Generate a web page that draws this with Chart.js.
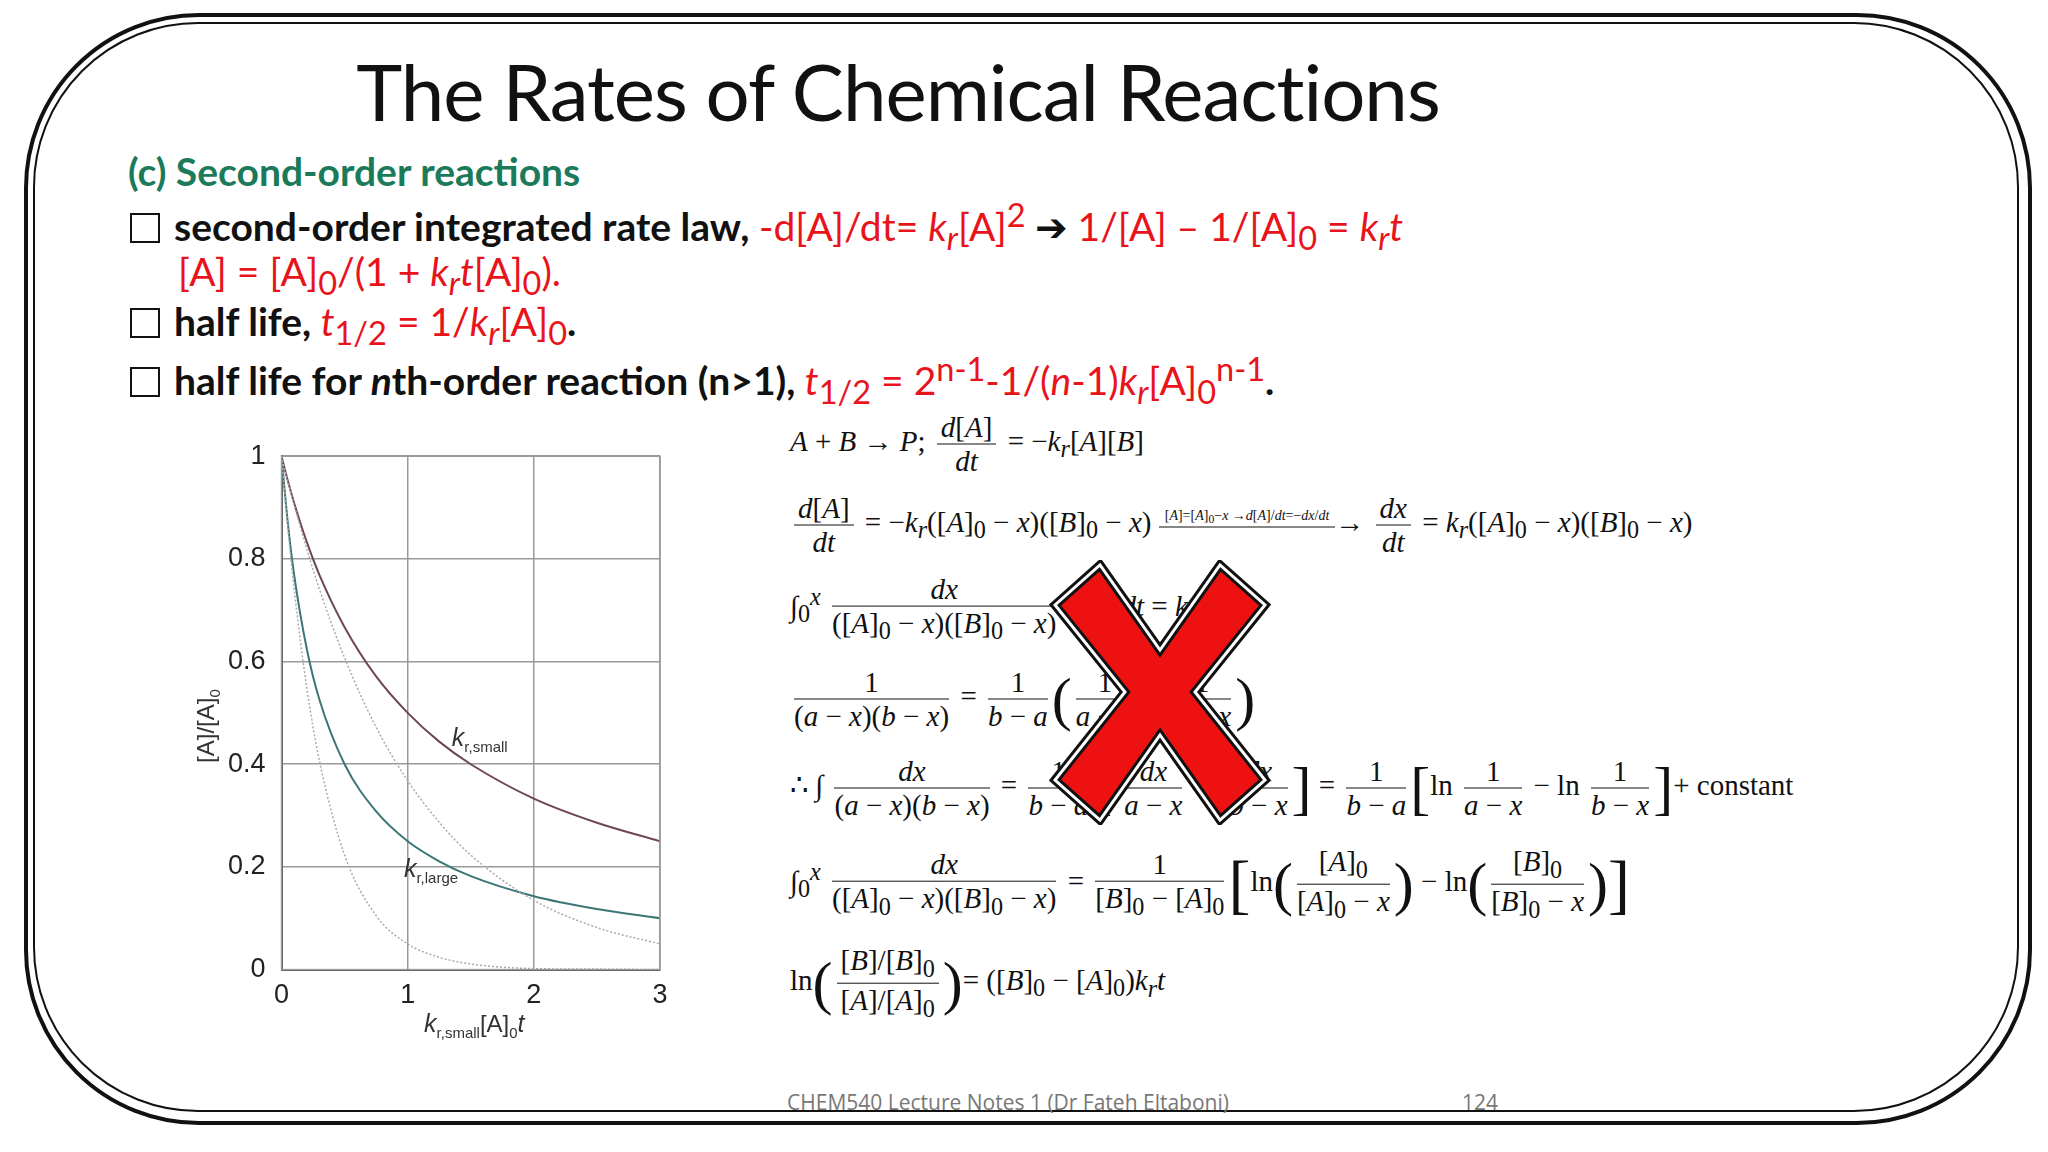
<!DOCTYPE html>
<html>
<head>
<meta charset="utf-8">
<script src="https://cdn.jsdelivr.net/npm/chart.js@4.4.1/dist/chart.umd.min.js"></script>
<style>
  body { margin:0; width:2048px; height:1152px; background:#fff; position:relative; overflow:hidden; font-family:Lato, "Open Sans", sans-serif; }
  .frame { position:absolute; left:24px; top:13px; width:2000px; height:1104px; border:4px solid #111; border-radius:175px; }
  .frame2 { position:absolute; left:33px; top:22px; width:1982px; height:1086px; border:2px solid #111; border-radius:165px; }
  .title { position:absolute; left:0; width:1796px; text-align:center; top:44px; font-size:78px; color:#111; letter-spacing:-1px; }
  .sub { position:absolute; left:128px; top:148px; font-size:39px; font-weight:bold; color:#1a7a5a; }
  .line { position:absolute; left:130px; font-size:39px; font-weight:bold; color:#111; white-space:nowrap; }
  .line .box { display:inline-block; width:26px; height:26px; border:2.5px solid #111; margin-right:14px; vertical-align:-2px; }
  .red { color:#e8141c; font-weight:normal; }
  #wrap { position:absolute; left:160px; top:424px; width:528px; height:642px; }
  .eq { position:absolute; font-family:"Liberation Serif", "DejaVu Serif", serif; font-size:29px; color:#111; white-space:nowrap; transform:translateY(-50%); }
  .frac { display:inline-flex; flex-direction:column; text-align:center; vertical-align:middle; margin:0 4px; }
  .frac > span:first-child { border-bottom:1.5px solid #111; padding:0 4px; }
  .big { font-size:60px; vertical-align:middle; }
  i { font-style:italic; }
  .foot { position:absolute; top:1088px; font-size:21px; color:#777; font-family:"Open Sans", sans-serif; }
</style>
</head>
<body>
<div class="frame"></div><div class="frame2"></div>
<div class="title">The Rates of Chemical Reactions</div>
<div class="sub">(c) Second-order reactions</div>
<div class="line" style="top:195px"><span class="box"></span>second-order integrated rate law, <span class="red">-d[A]/dt= <i>k<sub>r</sub></i>[A]<sup>2</sup></span> <span style="font-weight:normal">&#10132;</span> <span class="red">1/[A] – 1/[A]<sub>0</sub> = <i>k<sub>r</sub>t</i></span></div>
<div class="line" style="top:248px; left:178px"><span class="red">[A] = [A]<sub>0</sub>/(1 + <i>k<sub>r</sub>t</i>[A]<sub>0</sub>).</span></div>
<div class="line" style="top:298px"><span class="box"></span>half life, <span class="red"><i>t</i><sub>1/2</sub> = 1/<i>k<sub>r</sub></i>[A]<sub>0</sub></span>.</div>
<div class="line" style="top:349px"><span class="box"></span>half life for <i>n</i>th-order reaction (n&gt;1), <span class="red"><i>t</i><sub>1/2</sub> = 2<sup>n-1</sup>-1/(<i>n</i>-1)<i>k<sub>r</sub></i>[A]<sub>0</sub><sup>n-1</sup></span>.</div>

<div id="wrap"><canvas id="chart"></canvas></div>

<div class="eq" style="left:790px; top:444px"><i>A</i> + <i>B</i> → <i>P</i>; <span class="frac"><span><i>d</i>[<i>A</i>]</span><span><i>dt</i></span></span> = −<i>k<sub>r</sub></i>[<i>A</i>][<i>B</i>]</div>
<div class="eq" style="left:790px; top:525px"><span class="frac"><span><i>d</i>[<i>A</i>]</span><span><i>dt</i></span></span> = −<i>k<sub>r</sub></i>([<i>A</i>]<sub>0</sub> − <i>x</i>)([<i>B</i>]<sub>0</sub> − <i>x</i>) <span style="display:inline-block; font-size:14px; border-bottom:1.5px solid #111; padding:0 6px; vertical-align:12px">[<i>A</i>]=[<i>A</i>]<sub>0</sub>−<i>x</i> →<i>d</i>[<i>A</i>]/<i>dt</i>=−<i>dx</i>/<i>dt</i></span>→ <span class="frac"><span><i>dx</i></span><span><i>dt</i></span></span> = <i>k<sub>r</sub></i>([<i>A</i>]<sub>0</sub> − <i>x</i>)([<i>B</i>]<sub>0</sub> − <i>x</i>)</div>
<div class="eq" style="left:790px; top:609px">∫<sub>0</sub><sup><i>x</i></sup> <span class="frac"><span><i>dx</i></span><span>([<i>A</i>]<sub>0</sub> − <i>x</i>)([<i>B</i>]<sub>0</sub> − <i>x</i>)</span></span> = <i>k<sub>r</sub></i>∫<i>dt</i> = <i>k<sub>r</sub>t</i></div>
<div class="eq" style="left:790px; top:699px"><span class="frac"><span>1</span><span>(<i>a</i> − <i>x</i>)(<i>b</i> − <i>x</i>)</span></span> = <span class="frac"><span>1</span><span><i>b</i> − <i>a</i></span></span><span class="big">(</span><span class="frac"><span>1</span><span><i>a</i> − <i>x</i></span></span> − <span class="frac"><span>1</span><span><i>b</i> − <i>x</i></span></span><span class="big">)</span></div>
<div class="eq" style="left:790px; top:788px">∴ ∫ <span class="frac"><span><i>dx</i></span><span>(<i>a</i> − <i>x</i>)(<i>b</i> − <i>x</i>)</span></span> = <span class="frac"><span>1</span><span><i>b</i> − <i>a</i></span></span><span class="big">[</span>∫<span class="frac"><span><i>dx</i></span><span><i>a</i> − <i>x</i></span></span> − ∫<span class="frac"><span><i>dx</i></span><span><i>b</i> − <i>x</i></span></span><span class="big">]</span> = <span class="frac"><span>1</span><span><i>b</i> − <i>a</i></span></span><span class="big">[</span>ln <span class="frac"><span>1</span><span><i>a</i> − <i>x</i></span></span> − ln <span class="frac"><span>1</span><span><i>b</i> − <i>x</i></span></span><span class="big">]</span>+ constant</div>
<div class="eq" style="left:790px; top:884px">∫<sub>0</sub><sup><i>x</i></sup> <span class="frac"><span><i>dx</i></span><span>([<i>A</i>]<sub>0</sub> − <i>x</i>)([<i>B</i>]<sub>0</sub> − <i>x</i>)</span></span> = <span class="frac"><span>1</span><span>[<i>B</i>]<sub>0</sub> − [<i>A</i>]<sub>0</sub></span></span><span class="big" style="font-size:66px">[</span>ln<span class="big">(</span><span class="frac"><span>[<i>A</i>]<sub>0</sub></span><span>[<i>A</i>]<sub>0</sub> − <i>x</i></span></span><span class="big">)</span> − ln<span class="big">(</span><span class="frac"><span>[<i>B</i>]<sub>0</sub></span><span>[<i>B</i>]<sub>0</sub> − <i>x</i></span></span><span class="big">)</span><span class="big" style="font-size:66px">]</span></div>
<div class="eq" style="left:790px; top:983px">ln<span class="big">(</span><span class="frac"><span>[<i>B</i>]/[<i>B</i>]<sub>0</sub></span><span>[<i>A</i>]/[<i>A</i>]<sub>0</sub></span></span><span class="big">)</span>= ([<i>B</i>]<sub>0</sub> − [<i>A</i>]<sub>0</sub>)<i>k<sub>r</sub>t</i></div>

<svg style="position:absolute; left:1045px; top:560px" width="230" height="265" viewBox="0 0 230 265">
  <path d="M10,45 L55,5 L115,90 L175,5 L220,45 L150,132 L220,220 L175,260 L115,175 L55,260 L10,220 L80,132 Z" fill="#ee1111" stroke="#111" stroke-width="9" stroke-linejoin="miter"/>
  <path d="M10,45 L55,5 L115,90 L175,5 L220,45 L150,132 L220,220 L175,260 L115,175 L55,260 L10,220 L80,132 Z" fill="none" stroke="#fff" stroke-width="3"/>
</svg>

<div class="foot" style="left:787px">CHEM540 Lecture Notes 1 (Dr Fateh Eltaboni)</div>
<div class="foot" style="left:1462px">124</div>

<script>
const xValues = [0, 0.05, 0.1, 0.2, 0.3, 0.5, 0.75, 1, 1.25, 1.5, 2, 2.5, 3];
const secondSmall = [1, 0.952, 0.909, 0.833, 0.769, 0.667, 0.571, 0.5, 0.444, 0.4, 0.333, 0.286, 0.25];
const secondLarge = [1, 0.870, 0.769, 0.625, 0.526, 0.4, 0.308, 0.25, 0.211, 0.182, 0.143, 0.118, 0.1];
const firstSmall = [1, 0.951, 0.905, 0.819, 0.741, 0.607, 0.472, 0.368, 0.287, 0.223, 0.135, 0.082, 0.05];
const firstLarge = [1, 0.861, 0.741, 0.549, 0.407, 0.223, 0.105, 0.05, 0.024, 0.011, 0.002, 0.001, 0];
const xTicks = [0, 1, 2, 3];
const yTicks = [0, 0.2, 0.4, 0.6, 0.8, 1];

function pts(ys) { return xValues.map((x, i) => ({ x: x, y: ys[i] })); }

// text with a subscript, drawn on canvas
function subText(ctx, parts, x, y) {
    let cx = x;
    parts.forEach(p => {
        ctx.font = p.font;
        ctx.fillText(p.t, cx, y + (p.dy || 0));
        cx += ctx.measureText(p.t).width;
    });
}

const labelsPlugin = {
    id: 'labels',
    afterDraw(chart) {
        const ctx = chart.ctx;
        const xs = chart.scales.x, ys = chart.scales.y;
        ctx.save();
        ctx.fillStyle = '#333';
        ctx.textBaseline = 'alphabetic';
        const big = 'italic 25px "Liberation Sans", Arial, sans-serif';
        const small = '15px "Liberation Sans", Arial, sans-serif';
        const norm = '24px "Liberation Sans", Arial, sans-serif';
        subText(ctx, [{ t: 'k', font: big }, { t: 'r,small', font: small, dy: 6 }], xs.getPixelForValue(1.35), ys.getPixelForValue(0.435));
        subText(ctx, [{ t: 'k', font: big }, { t: 'r,large', font: small, dy: 6 }], xs.getPixelForValue(0.97), ys.getPixelForValue(0.18));
        // x axis title
        subText(ctx, [{ t: 'k', font: big }, { t: 'r,small', font: small, dy: 6 }, { t: '[A]', font: norm }, { t: '0', font: small, dy: 6 }, { t: 't', font: big }],
            xs.getPixelForValue(1.13), chart.chartArea.bottom + 62);
        // y axis title
        ctx.translate(chart.chartArea.left - 68, ys.getPixelForValue(0.5) + 10);
        ctx.rotate(-Math.PI / 2);
        subText(ctx, [{ t: '[A]/[A]', font: norm }, { t: '0', font: small, dy: 6 }], -40, 0);
        ctx.restore();
    }
};

const common = { pointRadius: 0, borderWidth: 2, cubicInterpolationMode: 'monotone', fill: false };

new Chart(document.getElementById('chart'), {
    type: 'line',
    data: {
        datasets: [
            Object.assign({ data: pts(firstSmall), borderColor: '#aaaaaa', borderDash: [2, 2] }, common, { borderWidth: 1.5 }),
            Object.assign({ data: pts(firstLarge), borderColor: '#aaaaaa', borderDash: [2, 2] }, common, { borderWidth: 1.5 }),
            Object.assign({ data: pts(secondSmall), borderColor: '#6e4658' }, common),
            Object.assign({ data: pts(secondLarge), borderColor: '#3c7676' }, common)
        ]
    },
    options: {
        responsive: true,
        maintainAspectRatio: false,
        animation: false,
        layout: { padding: { left: 52, right: 28, top: 24, bottom: 44 } },
        plugins: { legend: { display: false }, tooltip: { enabled: false } },
        scales: {
            x: {
                type: 'linear', min: 0, max: 3,
                afterBuildTicks: s => { s.ticks = xTicks.map(v => ({ value: v })); },
                grid: { color: '#999', lineWidth: 1.5, drawTicks: false },
                border: { color: '#555', width: 2 },
                ticks: { color: '#222', padding: 10, font: { size: 27, family: 'Liberation Sans' } }
            },
            y: {
                min: 0, max: 1,
                afterBuildTicks: s => { s.ticks = yTicks.map(v => ({ value: v })); },
                grid: { color: '#999', lineWidth: 1.5, drawTicks: false },
                border: { color: '#555', width: 2 },
                ticks: { color: '#222', padding: 16, font: { size: 27, family: 'Liberation Sans' }, callback: v => String(v) }
            }
        }
    },
    plugins: [labelsPlugin, {
        id: 'frameTop',
        afterDraw(chart) {
            const a = chart.chartArea, ctx = chart.ctx;
            ctx.save();
            ctx.strokeStyle = '#999';
            ctx.lineWidth = 1.5;
            ctx.strokeRect(a.left, a.top, a.right - a.left, a.bottom - a.top);
            ctx.restore();
        }
    }]
});
</script>
</body>
</html>
